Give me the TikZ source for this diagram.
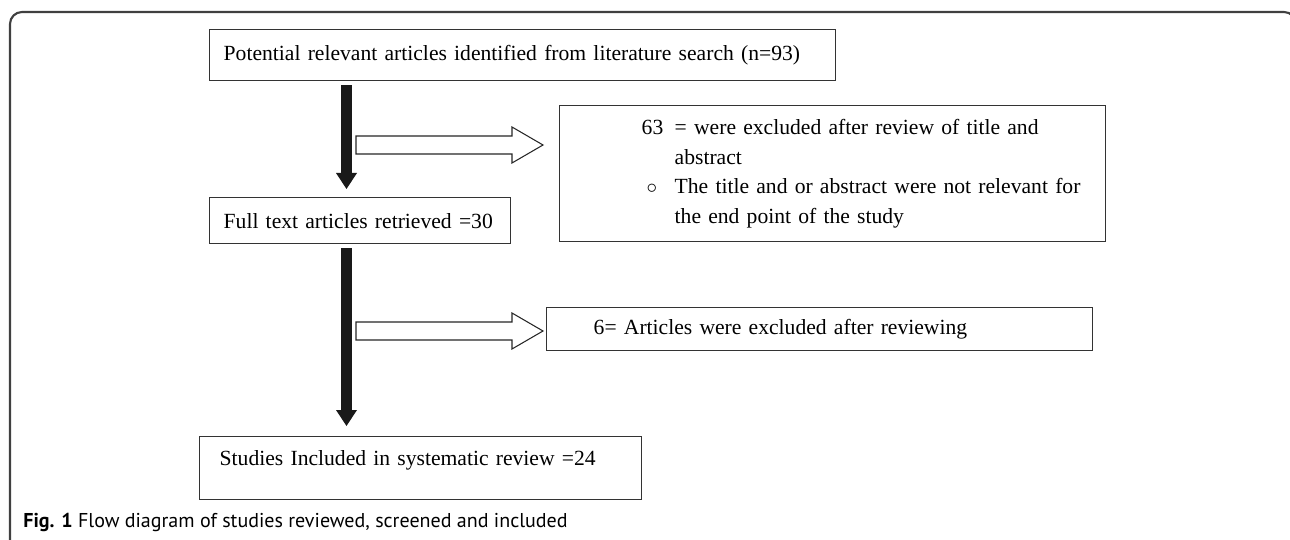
\documentclass[tikz,border=0pt]{standalone}
\usepackage{fontspec}
\setmainfont{Liberation Serif}
\newfontfamily\capfont{PT Sans}
\usetikzlibrary{arrows.meta}

\tikzset{
  box/.style={rectangle, draw=black!80, line width=0.8pt, anchor=north west,
    align=left, inner ysep=0pt, font=\fontsize{12.3}{16.8}\selectfont},
  flow/.style={line width=0.22cm, draw=black!90,
    -{Triangle[width=0.42cm, length=0.32cm, line width=0pt]}},
  hollow/.style={draw=black!85, line width=0.6pt, fill=white},
  frame/.style={draw=black!75, line width=1.2pt, rounded corners=0.24cm}
}

\begin{document}
\begin{tikzpicture}
    \useasboundingbox (0,0) rectangle (25.8,-10.8);
    \clip (0,0) rectangle (25.8,-10.8);
    \draw[frame] (0.20,-11.2) -- (0.20,-0.24) -- (25.92,-0.24) -- (25.92,-11.2);

    % boxes
    \node[box, text width=11.96cm, inner xsep=0.28cm, minimum height=1.02cm] (search) at (4.18,-0.58)
      {Potential relevant articles identified from literature search (n=93)};
    \node[box, text width=10.52cm, inner xsep=0.20cm, minimum height=2.72cm] (screen) at (11.18,-2.10)
      {\hspace*{1.44cm}\makebox[0.66cm][l]{63}= were excluded after review of title and\\
       \hspace*{2.10cm}abstract\\
       \hspace*{1.54cm}\makebox[0.56cm][l]{$\circ$}The title and or abstract were not relevant for\\
       \hspace*{2.10cm}the end point of the study};
    \node[box, text width=5.46cm, inner xsep=0.28cm, minimum height=0.92cm] (fulltext) at (4.18,-3.94)
      {Full text articles retrieved =30};
    \node[box, text width=9.04cm, inner xsep=0.94cm, minimum height=0.86cm] (review) at (10.92,-6.14)
      {6= Articles were excluded after reviewing};
    \node[box, text width=8.04cm, inner xsep=0.40cm, inner ysep=0.18cm, text height=0.40cm,
      text depth=0.50cm] (included) at (3.98,-8.72)
      {Studies Included in systematic review =24};

    % main flow
    \coordinate (trunk) at (6.93,0);
    \draw[flow, shorten <=0.08cm, shorten >=0.16cm] (trunk |- search.south) -- (trunk |- fulltext.north);
    \draw[flow, shorten <=0.08cm, shorten >=0.20cm] (trunk |- fulltext.south) -- (trunk |- included.north);

    % exclusions
    \coordinate (tip1) at (10.86,-2.90);
    \coordinate (tip2) at (10.86,-6.62);
    \foreach \t in {tip1,tip2}
      \draw[hollow] (\t) -- ++(-0.62,0.36) -- ++(0,-0.18) -- ++(-3.12,0) -- ++(0,-0.36)
        -- ++(3.12,0) -- ++(0,-0.18) -- cycle;

    \node[anchor=base west, inner sep=0pt, font=\capfont\fontsize{11.4}{12}\selectfont] (caption)
      at (0.46,-10.54) {\textbf{Fig. 1} Flow diagram of studies reviewed, screened and included};
\end{tikzpicture}
\end{document}
